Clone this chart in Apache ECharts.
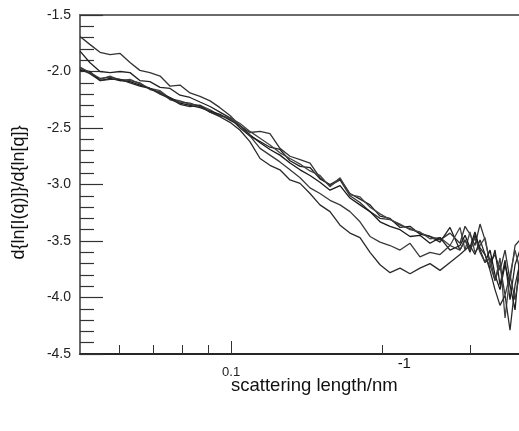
<!DOCTYPE html>
<html>
<head>
<meta charset="utf-8">
<script src="https://cdn.jsdelivr.net/npm/echarts@6/dist/echarts.min.js"></script>
<style>
  html, body { margin: 0; padding: 0; background: #fff; }
  #main { width: 519px; height: 431px; }
</style>
</head>
<body>
<div id="main"></div>
<script>
// scattering length q (nm^-1), shared by all curves
var q = [0.0500, 0.0523, 0.0548, 0.0574, 0.0601, 0.0629, 0.0658, 0.0689, 0.0722, 0.0756,
  0.0791, 0.0828, 0.0867, 0.0908, 0.0950, 0.0995, 0.1042, 0.1090, 0.1142, 0.1195,
  0.1251, 0.1310, 0.1372, 0.1436, 0.1503, 0.1574, 0.1648, 0.1725, 0.1806, 0.1891,
  0.1980, 0.2073, 0.2170, 0.2272, 0.2378, 0.2490, 0.2607, 0.2729, 0.2857, 0.2924,
  0.2991, 0.3060, 0.3132, 0.3205, 0.3279, 0.3355, 0.3433, 0.3513, 0.3594, 0.3678, 0.3763];

// d{ln[I(q)]}/d{ln[q]} for each curve
var curveA = [-1.69, -1.76, -1.83, -1.85, -1.84, -1.92, -1.99, -2.01, -2.04, -2.13,
  -2.12, -2.19, -2.22, -2.26, -2.32, -2.39, -2.48, -2.54, -2.53, -2.55,
  -2.68, -2.75, -2.78, -2.81, -2.94, -3.01, -2.96, -3.10, -3.16, -3.24,
  -3.30, -3.31, -3.36, -3.39, -3.43, -3.46, -3.49, -3.43, -3.52, -3.37,
  -3.44, -3.54, -3.35, -3.49, -3.69, -3.62, -3.76, -3.58, -3.85, -3.54, -3.49];
var curveB = [-1.82, -1.92, -2.00, -2.01, -2.00, -2.01, -2.08, -2.09, -2.14, -2.15,
  -2.21, -2.23, -2.27, -2.31, -2.36, -2.41, -2.50, -2.57, -2.62, -2.67,
  -2.69, -2.79, -2.84, -2.85, -2.95, -3.00, -2.95, -3.08, -3.13, -3.18,
  -3.28, -3.30, -3.38, -3.37, -3.44, -3.46, -3.51, -3.38, -3.58, -3.49,
  -3.60, -3.45, -3.56, -3.62, -3.74, -3.58, -3.89, -3.67, -4.02, -3.71, -3.58];
var curveC = [-1.97, -2.01, -2.07, -2.04, -2.08, -2.07, -2.11, -2.15, -2.17, -2.24,
  -2.26, -2.29, -2.30, -2.34, -2.39, -2.41, -2.46, -2.53, -2.59, -2.65,
  -2.72, -2.77, -2.82, -2.88, -2.92, -3.02, -2.94, -3.09, -3.11, -3.20,
  -3.26, -3.31, -3.35, -3.40, -3.42, -3.48, -3.47, -3.54, -3.38, -3.58,
  -3.42, -3.60, -3.54, -3.47, -3.71, -3.85, -3.65, -4.18, -3.80, -3.58, -3.76];
var curveD = [-1.99, -2.00, -2.08, -2.06, -2.08, -2.09, -2.12, -2.15, -2.19, -2.23,
  -2.28, -2.30, -2.32, -2.35, -2.38, -2.43, -2.48, -2.56, -2.63, -2.69,
  -2.74, -2.81, -2.87, -2.92, -2.98, -3.05, -3.01, -3.12, -3.18, -3.24,
  -3.33, -3.37, -3.40, -3.46, -3.45, -3.52, -3.47, -3.58, -3.54, -3.45,
  -3.56, -3.42, -3.58, -3.69, -3.58, -3.80, -3.93, -3.71, -3.89, -4.11, -3.62];
var curveE = [-1.96, -2.01, -2.06, -2.05, -2.07, -2.08, -2.10, -2.16, -2.18, -2.25,
  -2.27, -2.28, -2.31, -2.36, -2.39, -2.42, -2.48, -2.57, -2.68, -2.74,
  -2.80, -2.87, -2.94, -3.03, -3.08, -3.14, -3.18, -3.24, -3.33, -3.46,
  -3.51, -3.54, -3.58, -3.52, -3.64, -3.60, -3.62, -3.54, -3.58, -3.49,
  -3.58, -3.47, -3.60, -3.69, -3.65, -3.85, -3.71, -3.98, -3.80, -4.02, -3.76];
var curveF = [-1.98, -2.02, -2.08, -2.07, -2.07, -2.10, -2.13, -2.15, -2.20, -2.24,
  -2.29, -2.31, -2.30, -2.36, -2.40, -2.45, -2.52, -2.62, -2.77, -2.83,
  -2.87, -2.96, -2.99, -3.08, -3.18, -3.24, -3.36, -3.43, -3.47, -3.60,
  -3.71, -3.78, -3.74, -3.79, -3.74, -3.70, -3.76, -3.69, -3.62, -3.58,
  -3.54, -3.62, -3.49, -3.62, -3.76, -3.93, -4.07, -3.98, -4.29, -3.89, -3.69];

var curves = [curveA, curveB, curveC, curveD, curveE, curveF];
var lineColors = ['#333', '#222', '#444', '#1a1a1a', '#3a3a3a', '#2a2a2a'];

var xTicks = [0.06, 0.07, 0.08, 0.09, 0.2, 0.3, 0.4];
var xLabels = [0.1];

var font = '"Liberation Sans", Arial, sans-serif';

var chart = echarts.init(document.getElementById('main'));

var series = curves.map(function (c, i) {
  return {
    type: 'line',
    data: q.map(function (x, j) { return [x, c[j]]; }),
    showSymbol: false,
    symbol: 'none',
    lineStyle: { color: lineColors[i], width: 1.3 },
    clip: true,
    silent: true
  };
});

chart.setOption({
  animation: false,
  grid: {
    left: 80, top: 15, width: 502, height: 339,
    outerBoundsMode: 'none',
    containLabel: false,
    show: true, borderColor: '#6a6a6a', borderWidth: 2, backgroundColor: 'transparent'
  },
  xAxis: [{
    type: 'log',
    logBase: 10,
    min: 0.05,
    max: 0.5,
    position: 'bottom',
    axisLine: { lineStyle: { color: '#111', width: 1.5 } },
    axisTick: { show: true, inside: true, length: 9, customValues: xTicks,
      lineStyle: { color: '#333', width: 1 } },
    axisLabel: { customValues: xLabels, color: '#222', fontSize: 13, fontFamily: font,
      margin: 12, formatter: function (v) { return String(v); } },
    splitLine: { show: false },
    minorTick: { show: false },
    name: '{a|scattering length/nm}{b|-1}',
    nameLocation: 'middle',
    nameMoveOverlap: false,
    nameGap: 2,
    nameTextStyle: {
      padding: [0, 20, 0, 0],
      rich: {
        a: { fontSize: 18.5, fontFamily: font, color: '#111', lineHeight: 39, verticalAlign: 'bottom' },
        b: { fontSize: 15, fontFamily: font, color: '#111', lineHeight: 39, verticalAlign: 'top' }
      }
    }
  }, {
    // second axis only carries the longer tick at 0.1
    type: 'log',
    logBase: 10,
    min: 0.05,
    max: 0.5,
    position: 'bottom',
    axisLine: { show: false },
    axisTick: { show: true, inside: true, length: 13, customValues: xLabels,
      lineStyle: { color: '#333', width: 1 } },
    axisLabel: { show: false },
    splitLine: { show: false }
  }],
  yAxis: {
    type: 'value',
    min: -4.5,
    max: -1.5,
    interval: 0.5,
    axisLine: { lineStyle: { color: '#6a6a6a', width: 2 } },
    axisTick: { inside: true, length: 23, lineStyle: { color: '#333', width: 1.2 } },
    minorTick: { show: true, splitNumber: 5, length: 14, lineStyle: { color: '#333', width: 1.2 } },
    axisLabel: { color: '#222', fontSize: 14, fontFamily: font, margin: 9,
      formatter: function (v) { return v.toFixed(1); } },
    splitLine: { show: false },
    name: 'd{ln[I(q)]}/d{ln[q]}',
    nameLocation: 'middle',
    nameMoveOverlap: false,
    nameGap: 52,
    nameTextStyle: {
      padding: [0, 16, 0, 0],
      fontSize: 18, fontFamily: font, color: '#111'
    }
  },
  series: series
});
</script>
</body>
</html>
